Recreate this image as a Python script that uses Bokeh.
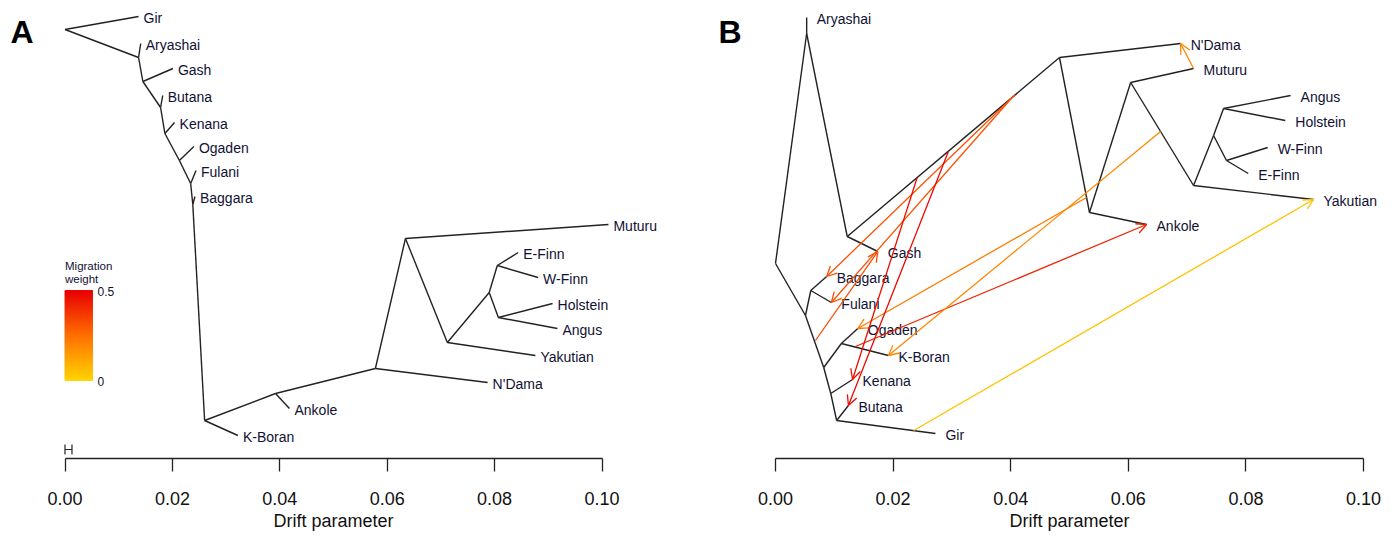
from bokeh.plotting import figure
from bokeh.layouts import row
from bokeh.models import (Range1d, FixedTicker, PrintfTickFormatter, Label, Arrow,
                          OpenHead, ColumnDataSource, Title)
from bokeh.embed import file_html
from bokeh.resources import INLINE
from bokeh.core.properties import value

# ---------------- data: panel A (tree without migration) ----------------
a_node = ["root", "Gir", "n1", "Aryashai", "n2", "Gash", "n3", "Butana", "n4", "Kenana",
          "n5", "Ogaden", "n6", "Fulani", "n7", "Baggara", "n8", "K-Boran", "n9", "Ankole",
          "n10", "N'Dama", "n11", "Muturu", "n12", "Yakutian", "n13", "n14", "E-Finn",
          "W-Finn", "n15", "Holstein", "Angus"]
a_drift = [0.0, 0.0137, 0.0137, 0.0141, 0.0145, 0.0201, 0.0178, 0.0182, 0.0186, 0.0204,
           0.0213, 0.0240, 0.0234, 0.0244, 0.0238, 0.0242, 0.0260, 0.0322, 0.0392, 0.0418,
           0.0578, 0.0787, 0.0634, 0.1012, 0.0712, 0.0876, 0.0790, 0.0805, 0.0844,
           0.0881, 0.0807, 0.0908, 0.0917]
a_row = [29, 16, 57, 43, 81, 68, 107, 95, 133, 122,
         160, 146, 183, 170, 204, 196, 420, 435, 393, 408,
         368, 382, 238, 224, 342, 355, 292, 265, 252,
         277, 317, 303, 328]
a_parent = ["root", "root", "n1", "n1", "n2", "n2", "n3", "n3", "n4", "n4", "n5", "n5",
            "n6", "n6", "n7", "n7", "n8", "n8", "n9", "n9", "n10", "n10", "n11", "n11",
            "n12", "n12", "n13", "n14", "n14", "n13", "n15", "n15"]
a_child = ["Gir", "n1", "Aryashai", "n2", "Gash", "n3", "Butana", "n4", "Kenana", "n5",
           "Ogaden", "n6", "Fulani", "n7", "Baggara", "n8", "K-Boran", "n9", "Ankole", "n10",
           "N'Dama", "n11", "Muturu", "n12", "Yakutian", "n13", "n14", "E-Finn", "W-Finn",
           "n15", "Holstein", "Angus"]
a_se_bar = 0.0013          # standard-error scale bar (left of axis)
a_se_row = 449

# ---------------- data: panel B (tree with migration edges) ----------------
b_node = ["root", "aryN", "Aryashai", "gashN", "Gash", "topN", "N'Dama", "ankN", "Ankole",
          "mutN", "Muturu", "yakN", "Yakutian", "eurN", "agN", "Angus", "Holstein", "finnN",
          "W-Finn", "E-Finn", "afN", "bfN", "Baggara", "Fulani", "okN", "okP", "Ogaden",
          "K-Boran", "kenN", "Kenana", "botN", "Butana", "Gir"]
b_drift = [0.0, 0.0053, 0.0053, 0.0122, 0.0174, 0.0483, 0.0689, 0.0534, 0.0631,
           0.0604, 0.0711, 0.0711, 0.0915, 0.0745, 0.0762, 0.0876, 0.0867, 0.0767,
           0.0837, 0.0804, 0.0051, 0.0060, 0.0087, 0.0095, 0.0082, 0.0112, 0.0140,
           0.0192, 0.0094, 0.0131, 0.0104, 0.0124, 0.0272]
b_row = [263, 33, 17, 236, 251, 57, 43, 212, 224,
         82, 68, 185, 199, 135, 108, 95, 120, 160,
         147, 173, 315, 290, 276, 302, 367, 343, 328,
         355, 393, 379, 420, 405, 433]
b_parent = ["root", "aryN", "aryN", "gashN", "gashN", "topN", "topN", "ankN", "ankN",
            "mutN", "mutN", "yakN", "yakN", "eurN", "agN", "agN", "eurN", "finnN", "finnN",
            "root", "afN", "bfN", "bfN", "afN", "okN", "okP", "okP", "okN", "kenN", "kenN",
            "botN", "botN"]
b_child = ["aryN", "Aryashai", "gashN", "Gash", "topN", "N'Dama", "ankN", "Ankole", "mutN",
           "Muturu", "yakN", "Yakutian", "eurN", "agN", "Angus", "Holstein", "finnN",
           "W-Finn", "E-Finn", "afN", "bfN", "Baggara", "Fulani", "okN", "okP", "Ogaden",
           "K-Boran", "kenN", "Kenana", "botN", "Butana", "Gir"]

# migration edges: origin point on the tree -> target population, with weight
mig_from_drift = [0.0711, 0.0235, 0.0136, 0.0529, 0.0655, 0.0408, 0.0401, 0.0068, 0.0294, 0.0241]
mig_from_row = [68, 430, 346, 197, 131, 94, 98, 340, 151, 177]
mig_to = ["N'Dama", "Yakutian", "Ankole", "Ogaden", "K-Boran", "Baggara", "Fulani", "Gash",
          "Butana", "Kenana"]
mig_weight = [0.20, 0.05, 0.42, 0.22, 0.19, 0.32, 0.32, 0.33, 0.48, 0.47]

# axis
tick_values = [0.0, 0.02, 0.04, 0.06, 0.08, 0.10]
x_title = "Drift parameter"
legend_weights = [0.0, 0.5]

# ---------------- styling helpers ----------------
FONT = "Liberation Sans"
W, H = 698, 539
AXIS_PX = 458
TITLE_HALF_WIDTH = 60  # half the rendered width of the axis title at 18px


def weight_color(w):
    stops = [(0.0, (255, 214, 0)), (0.25, (255, 112, 0)), (0.5, (232, 0, 0))]
    for (w0, c0), (w1, c1) in zip(stops[:-1], stops[1:]):
        if w <= w1:
            t = (w - w0) / (w1 - w0)
            c = [round(a + (b - a) * t) for a, b in zip(c0, c1)]
            return "#%02x%02x%02x" % tuple(c)
    return "#%02x%02x%02x" % stops[-1][1]


def make_panel(px_zero, px_per_unit, letter, letter_px):
    x0 = (0 - px_zero) / px_per_unit
    x1 = (W - px_zero) / px_per_unit
    p = figure(width=W, height=H, output_backend="svg", toolbar_location=None,
               x_range=Range1d(x0, x1), y_range=Range1d(AXIS_PX, 0),
               y_axis_location=None, min_border_left=0, min_border_right=0,
               min_border_top=0, min_border_bottom=H - AXIS_PX)
    p.outline_line_color = None
    p.grid.visible = False
    p.background_fill_color = "white"
    p.border_fill_color = "white"
    ax = p.xaxis[0]
    ax.ticker = FixedTicker(ticks=tick_values)
    ax.formatter = PrintfTickFormatter(format="%.2f")
    ax.bounds = (tick_values[0], tick_values[-1])
    ax.axis_line_color = "#222222"
    ax.axis_line_width = 1.3
    ax.major_tick_line_color = "#222222"
    ax.major_tick_line_width = 1.3
    ax.major_tick_in = 0
    ax.major_tick_out = 13
    ax.minor_tick_line_color = None
    ax.major_label_standoff = 20
    ax.major_label_text_font = FONT
    ax.major_label_text_font_size = "18px"
    ax.major_label_text_color = "#111111"
    # axis title, centred on the middle of the tick span
    mid_px = px_zero + px_per_unit * (tick_values[0] + tick_values[-1]) / 2
    t = Title(text=x_title, align="left", offset=mid_px - TITLE_HALF_WIDTH, standoff=2,
              text_font=FONT, text_font_size="18px", text_font_style="normal",
              text_color="#111111")
    p.add_layout(t, "below")
    p.add_layout(Label(x=(letter_px - px_zero) / px_per_unit, y=31, text=letter,
                       text_align="left", text_baseline="middle", text_font=FONT,
                       text_font_size="32px", text_font_style="bold", text_color="#000000"))
    return p


def draw_tree(p, nodes, drift, rows, parents, children, label_offset):
    pos = {n: (x, y) for n, x, y in zip(nodes, drift, rows)}
    seg = ColumnDataSource(dict(
        x0=[pos[a][0] for a in parents], y0=[pos[a][1] for a in parents],
        x1=[pos[c][0] for c in children], y1=[pos[c][1] for c in children]))
    p.segment(x0="x0", y0="y0", x1="x1", y1="y1", source=seg,
              line_color="#222222", line_width=1.4)
    tips = [n for n in nodes if n not in set(parents)]
    lab = ColumnDataSource(dict(x=[pos[t][0] for t in tips], y=[pos[t][1] for t in tips],
                                name=tips))
    p.text(x="x", y="y", text="name", source=lab, x_offset=label_offset, y_offset=1,
           text_font=value(FONT), text_font_size=value("14px"),
           text_baseline=value("middle"), text_align=value("left"), text_color="#111133")
    return pos


# ---------------- panel A ----------------
pA_zero, pA_ppu = 64.5, 5370.0
pA = make_panel(pA_zero, pA_ppu, "A", 10)
draw_tree(pA, a_node, a_drift, a_row, a_parent, a_child, 5)

# SE scale bar
pA.segment(x0=[0, 0, a_se_bar], y0=[a_se_row, a_se_row - 5, a_se_row - 5],
           x1=[a_se_bar, 0, a_se_bar], y1=[a_se_row, a_se_row + 5, a_se_row + 5],
           line_color="#222222", line_width=1.2)

# migration-weight colour legend
leg_left, leg_right = 0.0, (92 - pA_zero) / pA_ppu
leg_bottom_row, leg_top_row = 380, 290
nsl = 45
lw = [legend_weights[0] + (legend_weights[1] - legend_weights[0]) * i / nsl for i in range(nsl)]
lw_next = [legend_weights[0] + (legend_weights[1] - legend_weights[0]) * (i + 1) / nsl for i in range(nsl)]
span = leg_bottom_row - leg_top_row
cols = [weight_color((a + b) / 2) for a, b in zip(lw, lw_next)]
pA.quad(left=leg_left, right=leg_right,
        bottom=[leg_bottom_row - span * w / legend_weights[1] for w in lw],
        top=[leg_bottom_row - span * w / legend_weights[1] for w in lw_next],
        fill_color=cols, line_color=cols, line_width=1)
for w in legend_weights:
    pA.add_layout(Label(x=leg_right + 5 / pA_ppu, y=leg_bottom_row - span * w / legend_weights[1] + 1,
                        text=("%g" % w), text_baseline="middle", text_font=FONT,
                        text_font_size="12px", text_color="#111133"))
for txt, r in (("Migration", 265), ("weight", 278)):
    pA.add_layout(Label(x=leg_left, y=r, text=txt, text_baseline="middle", text_font=FONT,
                        text_font_size="11.5px", text_color="#111133"))

# ---------------- panel B ----------------
pB_zero, pB_ppu = 775.0 - W, 5880.0
pB = make_panel(pB_zero, pB_ppu, "B", 718 - W)
posB = draw_tree(pB, b_node, b_drift, b_row, b_parent, b_child, 10)

for fx, fr, tgt, w in zip(mig_from_drift, mig_from_row, mig_to, mig_weight):
    c = weight_color(w)
    tx, tr = posB[tgt]
    pB.add_layout(Arrow(end=OpenHead(size=10, line_color=c, line_width=1.3),
                        x_start=fx, y_start=fr, x_end=tx, y_end=tr,
                        line_color=c, line_width=1.3))

layout = row(pA, pB)
open("out.html", "w").write(file_html(layout, INLINE))
